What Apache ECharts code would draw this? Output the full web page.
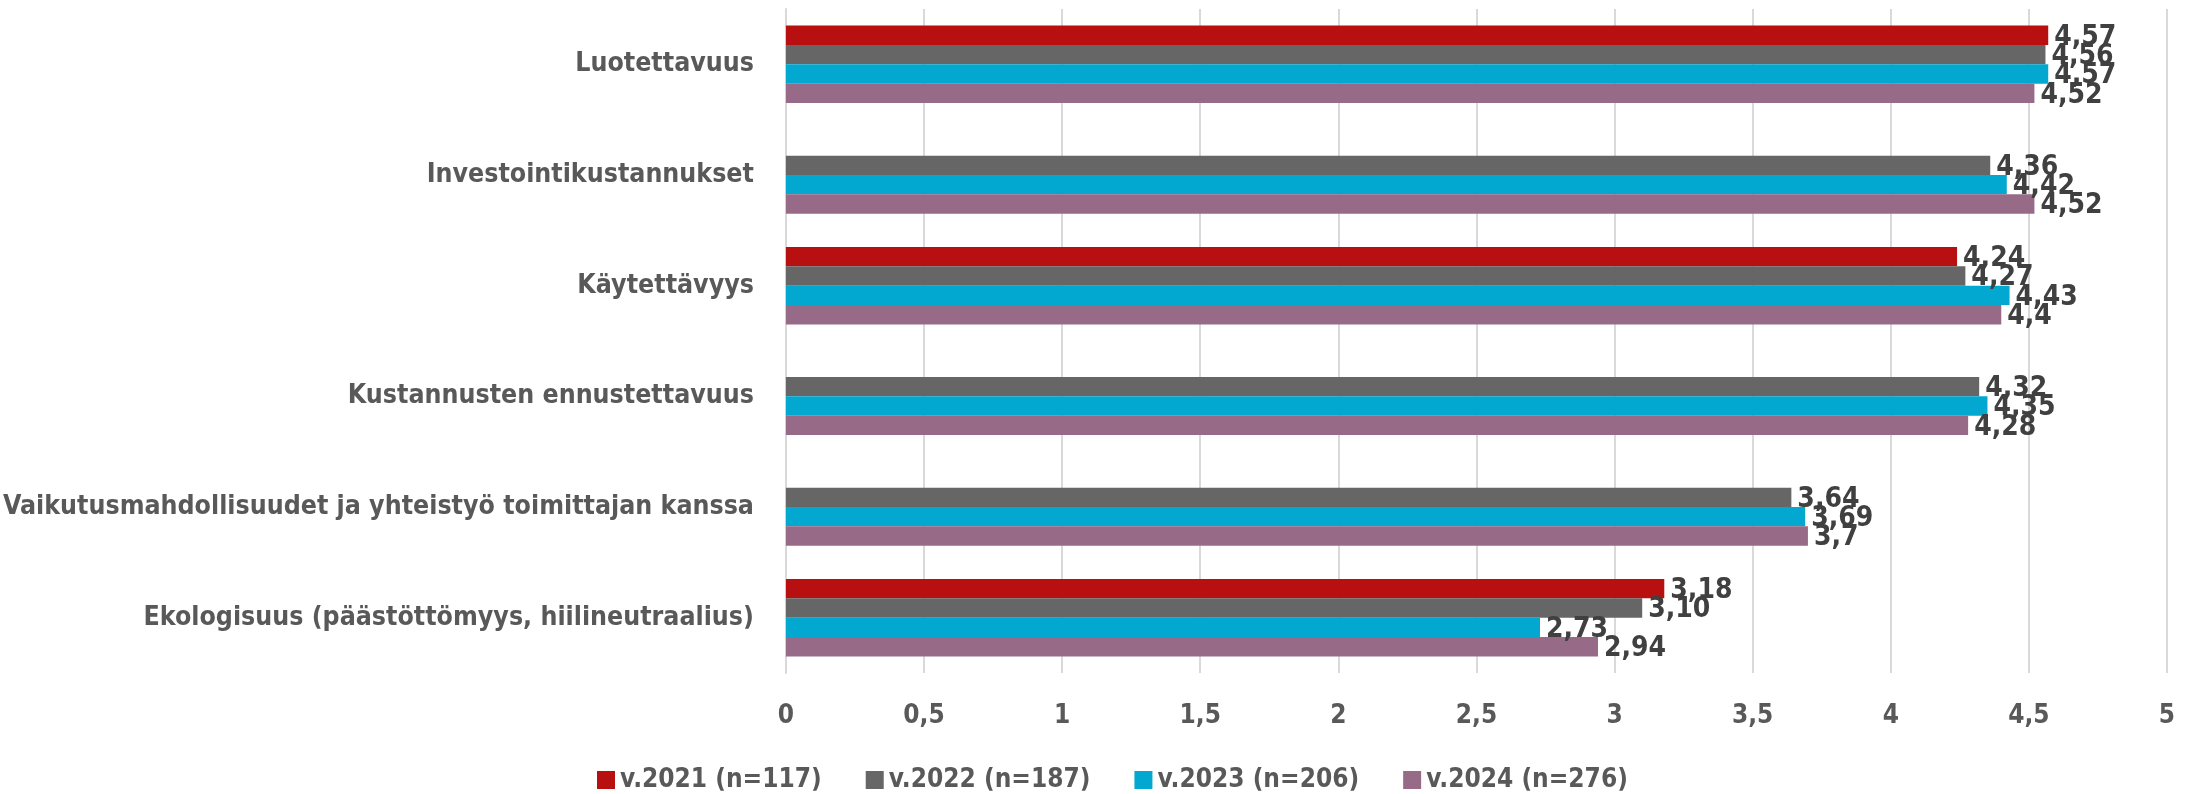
<!DOCTYPE html>
<html>
<head>
<meta charset="utf-8">
<script src="https://cdn.jsdelivr.net/npm/echarts@6/dist/echarts.min.js"></script>
<style>
  html, body { margin: 0; padding: 0; background: #fff; }
  #main { width: 2195px; height: 794px; }
</style>
</head>
<body>
<div id="main"></div>
<script>
// categories, top to bottom
var categories = [
  'Luotettavuus',
  'Investointikustannukset',
  'Käytettävyys',
  'Kustannusten ennustettavuus',
  'Vaikutusmahdollisuudet ja yhteistyö toimittajan kanssa',
  'Ekologisuus (päästöttömyys, hiilineutraalius)'
];

var seriesNames = ['v.2021 (n=117)', 'v.2022 (n=187)', 'v.2023 (n=206)', 'v.2024 (n=276)'];

var v2021 = [4.57, null, 4.24, null, null, 3.18];
var v2022 = [4.56, 4.36, 4.27, 4.32, 3.64, 3.10];
var v2023 = [4.57, 4.42, 4.43, 4.35, 3.69, 2.73];
var v2024 = [4.52, 4.52, 4.4, 4.28, 3.7, 2.94];

// decimals shown in the labels (null = as is)
var labelDecimals = [2, 2, 2, null];

var xTicks = [0, 0.5, 1, 1.5, 2, 2.5, 3, 3.5, 4, 4.5, 5];

var colors = ['#B81010', '#666666', '#02A8D0', '#976A87'];
var fontFam = '"Liberation Sans Narrow", "DejaVu Sans Condensed", "Open Sans", sans-serif';

var allValues = [v2021, v2022, v2023, v2024];

function makeSeries(i) {
  return {
    name: seriesNames[i],
    type: 'bar',
    data: allValues[i],
    barGap: '0%',
    barCategoryGap: '30%',
    itemStyle: { color: colors[i] },
    label: {
      show: true,
      position: 'right',
      distance: 6,
      offset: [0, 2],
      color: '#404040',
      fontFamily: fontFam,
      fontWeight: 'bold',
      fontSize: 28,
      formatter: function (p) {
        if (p.value == null) return '';
        var d = labelDecimals[i];
        var s = d == null ? String(p.value) : p.value.toFixed(d);
        return s.replace('.', ',');
      }
    }
  };
}

var chart = echarts.init(document.getElementById('main'));
chart.setOption({
  animation: false,
  grid: { left: 785, right: 28, top: 9, bottom: 121, containLabel: false },
  legend: {
    data: seriesNames,
    top: 762,
    left: 592,
    itemWidth: 18,
    itemHeight: 18,
    itemGap: 44,
    icon: 'rect',
    textStyle: { color: '#595959', fontFamily: fontFam, fontWeight: 'bold', fontSize: 26 }
  },
  xAxis: {
    type: 'value',
    min: 0,
    max: 5,
    interval: 0.5,
    axisLine: { show: false },
    axisTick: { show: false },
    splitLine: { lineStyle: { color: '#D9D9D9', width: 2 } },
    axisLabel: {
      margin: 30,
      color: '#595959',
      fontFamily: fontFam,
      fontWeight: 'bold',
      fontSize: 26,
      formatter: function (v) { return xTicks.indexOf(v) >= 0 ? String(v).replace('.', ',') : ''; }
    }
  },
  yAxis: {
    type: 'category',
    data: categories,
    inverse: true,
    axisLine: { show: true, lineStyle: { color: '#D9D9D9', width: 2 } },
    axisTick: { show: false },
    axisLabel: {
      margin: 32,
      color: '#595959',
      fontFamily: fontFam,
      fontWeight: 'bold',
      fontSize: 26.5
    }
  },
  series: [makeSeries(0), makeSeries(1), makeSeries(2), makeSeries(3)]
});
</script>
</body>
</html>
